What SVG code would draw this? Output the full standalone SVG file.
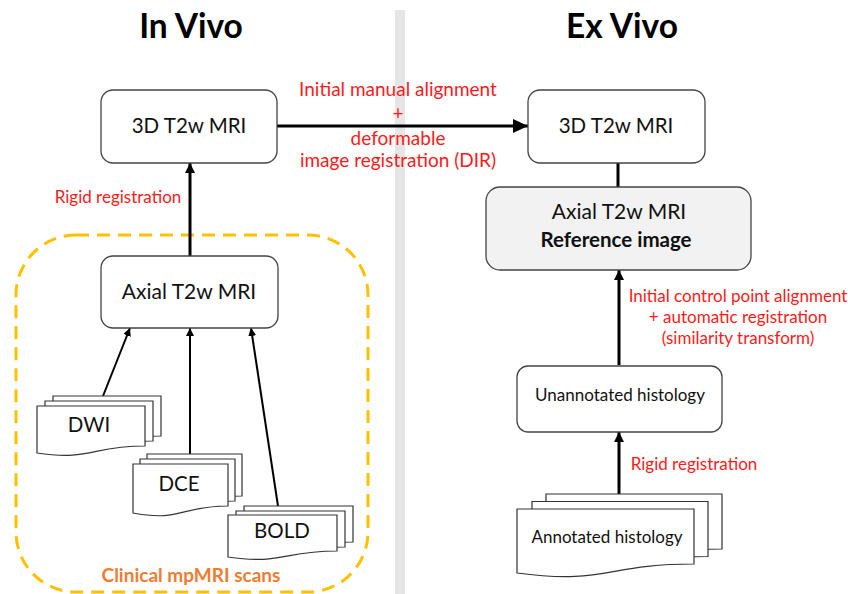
<svg xmlns="http://www.w3.org/2000/svg" width="848" height="594" viewBox="0 0 848 594">
<defs>
<style>
text{font-family:Lato,"Liberation Sans",sans-serif;text-anchor:middle;}
.title{font-size:33.5px;font-weight:bold;fill:#000;}
.lbl{font-size:20.5px;fill:#111;}
.sm{font-size:17px;fill:#111;}
.red{font-size:19px;fill:#ff1a1a;}
.red2{font-size:17px;fill:#ff1a1a;}
.box{fill:#fff;stroke:#444;stroke-width:1.3;}
.doc{fill:#fff;stroke:#333;stroke-width:1.2;}
.c{stroke:#000;stroke-width:3;fill:none;}
.c2{stroke:#000;stroke-width:2;fill:none;}
</style>
<marker id="big" markerUnits="userSpaceOnUse" markerWidth="16" markerHeight="14" refX="15" refY="7" orient="auto"><path d="M0,0 L15,7 L0,14 Z" fill="#000"/></marker>
<marker id="small" markerUnits="userSpaceOnUse" markerWidth="11" markerHeight="10" refX="10" refY="5" orient="auto"><path d="M0,0 L10,5 L0,10 Z" fill="#000"/></marker>
<marker id="tiny" markerUnits="userSpaceOnUse" markerWidth="9" markerHeight="8" refX="8" refY="4" orient="auto"><path d="M0,0 L8,4 L0,8 Z" fill="#000"/></marker>
</defs>
<rect x="0" y="0" width="848" height="594" fill="#fff"/>
<rect x="395" y="10" width="10" height="584" fill="#e6e6e6"/>
<text class="title" x="191" y="38">In Vivo</text>
<text class="title" x="622" y="38">Ex Vivo</text>

<g id="clinical-group">
<rect x="16" y="235" width="352" height="357" rx="60" fill="none" stroke="#ffc000" stroke-width="3" stroke-dasharray="13,8"/>
<text x="191" y="582" style="font-size:19px;font-weight:bold;fill:#ed7d31">Clinical mpMRI scans</text>
</g>

<g id="connectors">
<line class="c" x1="277" y1="126" x2="528" y2="126" marker-end="url(#big)"/>
<line class="c" x1="190" y1="256" x2="190" y2="163" marker-end="url(#small)"/>
<line class="c2" x1="103" y1="396" x2="130" y2="328" marker-end="url(#tiny)"/>
<line class="c2" x1="190" y1="454" x2="190" y2="328" marker-end="url(#tiny)"/>
<line class="c2" x1="278" y1="506" x2="251" y2="328" marker-end="url(#tiny)"/>
<line class="c" x1="618" y1="163" x2="618" y2="187"/>
<line class="c" x1="619" y1="365" x2="619" y2="270" marker-end="url(#small)"/>
<line class="c" x1="619" y1="494" x2="619" y2="432" marker-end="url(#small)"/>
</g>

<g id="label-dir">
<text class="red" x="398" y="96">Initial manual alignment</text>
<text class="red" x="398" y="120">+</text>
<text class="red" x="398" y="145">deformable</text>
<text class="red" x="398" y="167">image registration (DIR)</text>
</g>
<text class="red2" x="118" y="203">Rigid registration</text>
<g id="label-ctrl">
<text class="red2" x="738" y="302">Initial control point alignment</text>
<text class="red2" x="738" y="323">+ automatic registration</text>
<text class="red2" x="738" y="344">(similarity transform)</text>
</g>
<text class="red2" x="694" y="470">Rigid registration</text>

<g id="invivo-3d">
<rect class="box" x="101" y="90" width="176" height="73" rx="12"/>
<text class="lbl" x="189" y="133">3D T2w MRI</text>
</g>
<g id="invivo-axial">
<rect class="box" x="101" y="256" width="177" height="72" rx="12"/>
<text class="lbl" x="189" y="299" style="font-size:21px">Axial T2w MRI</text>
</g>
<g id="exvivo-3d">
<rect class="box" x="528" y="90" width="177" height="73" rx="12"/>
<text class="lbl" x="616" y="133">3D T2w MRI</text>
</g>
<g id="exvivo-axial">
<rect class="box" x="486" y="187" width="265" height="83" rx="14" style="fill:#f2f2f2"/>
<text class="lbl" x="619" y="219" style="font-size:21px">Axial T2w MRI</text>
<text class="lbl" x="616" y="247" style="font-weight:bold">Reference image</text>
</g>
<g id="unannotated">
<rect class="box" x="517" y="366" width="205" height="66" rx="11"/>
<text class="sm" x="620" y="401">Unannotated histology</text>
</g>

<g id="dwi">
<path class="doc" d="M53,396 h108 v40 C107,436 107,451 53,443 Z"/>
<path class="doc" d="M45,401 h108 v40 C99,441 99,456 45,448 Z"/>
<path class="doc" d="M37,406 h108 v40 C91,446 91,461 37,453 Z"/>
<text class="lbl" x="89" y="432">DWI</text>
</g>
<g id="dce">
<path class="doc" d="M147,454 h95 v42 C194.5,496 194.5,512 147,503 Z"/>
<path class="doc" d="M140,459 h95 v42 C187.5,501 187.5,517 140,508 Z"/>
<path class="doc" d="M133,464 h95 v42 C180.5,506 180.5,522 133,513 Z"/>
<text class="lbl" x="179" y="491">DCE</text>
</g>
<g id="bold">
<path class="doc" d="M244,506 h109 v36 C298.5,542 298.5,556 244,548 Z"/>
<path class="doc" d="M236,511 h109 v36 C290.5,547 290.5,561 236,553 Z"/>
<path class="doc" d="M228,515 h109 v36 C282.5,551 282.5,565 228,557 Z"/>
<text class="lbl" x="282" y="538">BOLD</text>
</g>
<g id="annotated">
<path class="doc" d="M546,494 h176 v55 C634,549 634,570 546,558 Z"/>
<path class="doc" d="M532,501.5 h176 v55 C620,556.5 620,577.5 532,565.5 Z"/>
<path class="doc" d="M517,509 h177 v55 C605.5,564 605.5,585 517,573 Z"/>
<text class="sm" x="607" y="543">Annotated histology</text>
</g>
</svg>
